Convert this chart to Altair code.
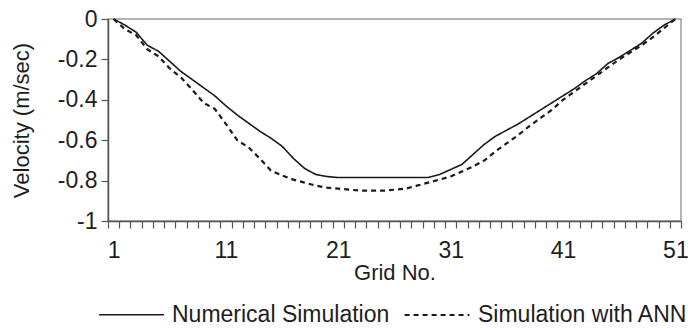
import altair as alt
import pandas as pd

grid = list(range(1, 52))
numerical = [0, -0.03, -0.065, -0.13, -0.16, -0.21, -0.26, -0.30, -0.34, -0.38,
             -0.43, -0.475, -0.515, -0.555, -0.59, -0.63, -0.69, -0.74, -0.77, -0.78,
             -0.785, -0.785, -0.785, -0.785, -0.785, -0.785, -0.785, -0.785, -0.785, -0.77,
             -0.745, -0.72, -0.67, -0.62, -0.58, -0.55, -0.52, -0.485, -0.45, -0.415,
             -0.38, -0.345, -0.305, -0.27, -0.22, -0.19, -0.155, -0.12, -0.07, -0.03, 0]
ann = [0, -0.05, -0.08, -0.15, -0.185, -0.245, -0.29, -0.35, -0.415, -0.445,
       -0.52, -0.60, -0.635, -0.69, -0.75, -0.775, -0.795, -0.81, -0.825, -0.835,
       -0.84, -0.845, -0.85, -0.85, -0.85, -0.845, -0.84, -0.825, -0.81, -0.795,
       -0.78, -0.755, -0.73, -0.70, -0.655, -0.615, -0.575, -0.53, -0.49, -0.45,
       -0.40, -0.36, -0.32, -0.28, -0.24, -0.20, -0.165, -0.13, -0.09, -0.045, 0]
series_names = ["Numerical Simulation", "Simulation with ANN"]
x_tick_values = [i + 0.5 for i in range(0, 52)]
y_tick_values = [0, -0.2, -0.4, -0.6, -0.8, -1]

df = pd.DataFrame({
    "grid": grid * 2,
    "v": numerical + ann,
    "series": [series_names[0]] * len(grid) + [series_names[1]] * len(grid),
})

W, H = 573, 202
band = W / 51
FONT = "Liberation Sans"
TXT = "#1e1e1e"

chart = alt.Chart(df).mark_line(color="#1a1a1a").encode(
    x=alt.X("grid:Q",
            scale=alt.Scale(domain=[0.5, 51.5], nice=False, zero=False),
            axis=alt.Axis(values=x_tick_values,
                          labelExpr="datum.value % 10 == 0.5 ? format(datum.value + 0.5, 'd') : ''",
                          labelOffset=band / 2, labelFlush=False, labelOverlap=False,
                          labelBound=False, tickSize=7, labelPadding=11,
                          title="Grid No.", titlePadding=0)),
    y=alt.Y("v:Q",
            scale=alt.Scale(domain=[-1, 0], nice=False, zero=False),
            axis=alt.Axis(values=y_tick_values,
                          labelExpr="datum.value == 0 ? '0' : datum.value == -1 ? '-1' : '-' + format(-datum.value, '.1f')",
                          labelFlush=False, labelOverlap=False, tickSize=7, labelPadding=4,
                          title="Velocity (m/sec)", titlePadding=24)),
    strokeDash=alt.StrokeDash("series:N",
                              scale=alt.Scale(domain=series_names, range=[[1, 0], [5, 4]]),
                              legend=alt.Legend(orient="none", legendX=-10, legendY=262,
                                                direction="horizontal", title=None,
                                                labelFontSize=23, labelFont=FONT, labelColor=TXT,
                                                labelLimit=0,
                                                symbolType="stroke", symbolSize=4200,
                                                symbolStrokeWidth=1.6, symbolStrokeColor="#1a1a1a",
                                                labelOffset=7, columnPadding=10, padding=0)),
    strokeWidth=alt.StrokeWidth("series:N",
                                scale=alt.Scale(domain=series_names, range=[1.6, 2.2]),
                                legend=None),
).properties(
    width=W, height=H,
    autosize=alt.AutoSizeParams(type="none"),
    padding={"left": 108, "top": 19, "right": 7, "bottom": 108},
).configure_view(
    stroke="#9a9a9a", strokeWidth=1.5
).configure_axis(
    grid=False, domainColor="#555555", tickColor="#555555", domainWidth=1.5, tickWidth=1.2,
    labelFont=FONT, titleFont=FONT, labelFontSize=23, titleFontSize=22,
    labelColor=TXT, titleColor=TXT, titleFontWeight="normal"
)

chart.save("out.html", embed_options={"renderer": "svg", "actions": False})
